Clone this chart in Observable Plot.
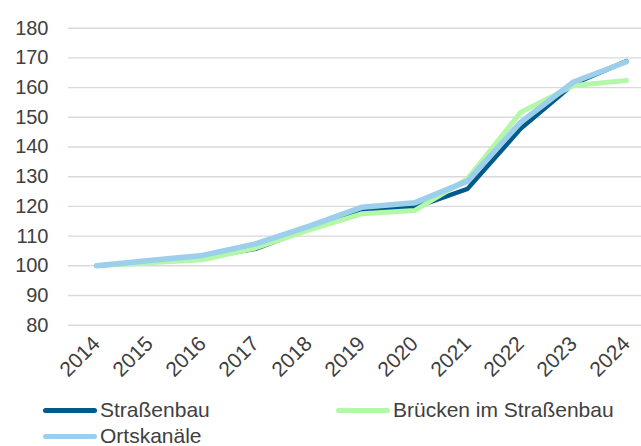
<!DOCTYPE html>
<html>
<head>
<meta charset="utf-8">
<script src="https://cdn.jsdelivr.net/npm/d3@7"></script>
<script src="https://cdn.jsdelivr.net/npm/@observablehq/plot@0.6"></script>
<style>
  html, body { margin: 0; padding: 0; background: #fff; }
  body { width: 641px; height: 446px; overflow: hidden; font-family: "Liberation Sans", Arial, sans-serif; color: #404040; }
  #legend { position: relative; height: 54px; font-size: 21px; }
  .item { position: absolute; display: flex; align-items: center; height: 26px; }
  .sw { width: 54px; height: 5px; border-radius: 3px; margin-right: 3px; }
</style>
</head>
<body>
<div id="chart"></div>
<div id="legend"></div>
<script>
const years = [2014, 2015, 2016, 2017, 2018, 2019, 2020, 2021, 2022, 2023, 2024];
const strassenbau = [100, 101.4, 102.6, 105.7, 112.4, 118.6, 119.6, 125.9, 146.1, 161.2, 168.9];
const bruecken    = [100, 101.0, 102.0, 106.0, 112.0, 117.5, 118.6, 129.3, 151.6, 160.7, 162.4];
const ortskanaele = [100, 101.8, 103.5, 107.4, 113.3, 119.7, 121.2, 128.5, 148.3, 161.9, 168.7];
const yTicks = [80, 90, 100, 110, 120, 130, 140, 150, 160, 170, 180];

const seriesNames = ["Straßenbau", "Brücken im Straßenbau", "Ortskanäle"];
const seriesValues = [strassenbau, bruecken, ortskanaele];
const seriesColors = ["#005a8b", "#b3f7a8", "#9ccfeb"];
const seriesWidths = [4.5, 5, 5.5];

const data = seriesNames.flatMap((name, i) =>
  years.map((year, j) => ({ series: name, year, value: seriesValues[i][j] })));

const H = 392;
const chart = Plot.plot({
  width: 641,
  height: H,
  marginLeft: 68,
  marginRight: 0,
  marginTop: 27.7,
  marginBottom: H - 324.7,
  style: { fontFamily: "'Liberation Sans', Arial, sans-serif", color: "#404040", background: "#fff" },
  x: { type: "point", domain: years, range: [94, 627], padding: 0 },
  y: { domain: [80, 180], ticks: yTicks },
  marks: [
    Plot.ruleY(yTicks, { stroke: "#d9d9d9", strokeWidth: 1.4 }),
    Plot.axisY({ ticks: yTicks, tickSize: 0, tickPadding: 20, fontSize: 20, fill: "#404040", label: null }),
    Plot.axisX({ tickSize: 0, tickPadding: 15, tickRotate: -45, fontSize: 21, fill: "#404040", label: null, tickFormat: d => `${d}` }),
    ...seriesNames.map((name, i) =>
      Plot.line(data.filter(d => d.series === name), {
        x: "year", y: "value",
        stroke: seriesColors[i], strokeWidth: seriesWidths[i],
        strokeLinejoin: "round", strokeLinecap: "round"
      }))
  ]
});
document.getElementById("chart").appendChild(chart);

const legend = document.getElementById("legend");
const positions = [[43, 5], [336, 5], [43, 31]];
seriesNames.forEach((name, i) => {
  const item = document.createElement("div");
  item.className = "item";
  item.style.left = positions[i][0] + "px";
  item.style.top = positions[i][1] + "px";
  const sw = document.createElement("span");
  sw.className = "sw";
  sw.style.background = seriesColors[i];
  const t = document.createElement("span");
  t.textContent = name;
  item.appendChild(sw);
  item.appendChild(t);
  legend.appendChild(item);
});
</script>
</body>
</html>
